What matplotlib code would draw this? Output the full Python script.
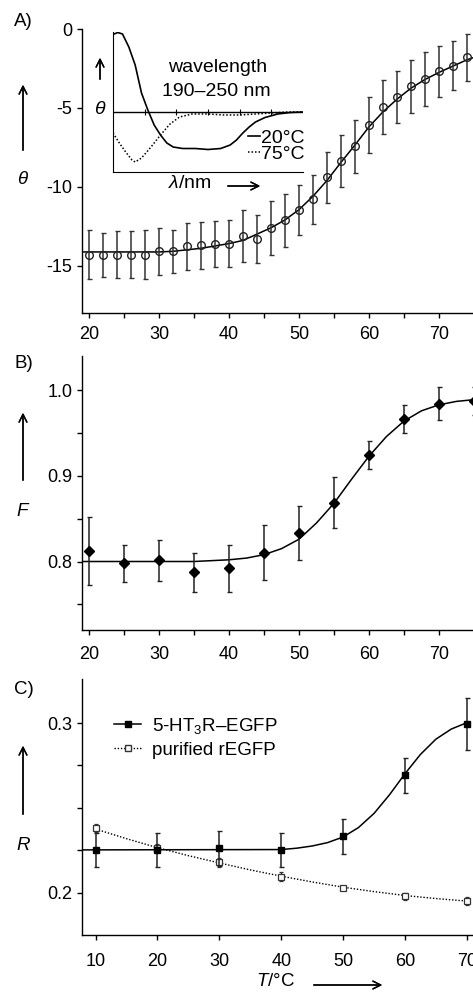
#!/usr/bin/env python3
"""
Thermal unfolding of 5-HT3R-EGFP: CD, fluorescence and anisotropy panels
"""

import matplotlib
matplotlib.use('Agg')
import matplotlib.pyplot as plt
from matplotlib.lines import Line2D

plt.rcParams['font.family'] = ['Liberation Sans', 'DejaVu Sans']
plt.rcParams['font.size'] = 13.5
plt.rcParams['axes.unicode_minus'] = False
plt.rcParams['mathtext.fontset'] = 'custom'
plt.rcParams['mathtext.rm'] = 'Liberation Sans'
plt.rcParams['mathtext.it'] = 'Liberation Sans:italic'

# --- panel A: CD signal vs temperature ---
a_temp = [20, 22, 24, 26, 28, 30, 32, 34, 36, 38, 40, 42, 44, 46,
          48, 50, 52, 54, 56, 58, 60, 62, 64, 66, 68, 70, 72, 74]
a_theta = [-14.3, -14.34, -14.3, -14.3, -14.3, -14.09, -14.09, -13.77, -13.72, -13.6,
           -13.6, -13.13, -13.3, -12.6, -12.13, -11.47, -10.8, -9.4, -8.36, -7.43,
           -6.1, -4.94, -4.32, -3.64, -3.17, -2.68, -2.32, -1.79]
a_err = [1.53, 1.39, 1.47, 1.49, 1.53, 1.48, 1.38, 1.49, 1.49, 1.46,
         1.49, 1.64, 1.53, 1.70, 1.68, 1.60, 1.57, 1.60, 1.65, 1.67,
         1.78, 1.71, 1.65, 1.68, 1.73, 1.62, 1.54, 1.49]
a_fit_t = [19, 30, 32, 36, 40, 42, 44, 46, 48, 50, 52, 54, 56, 58,
           60, 62, 64, 66, 68, 70, 72, 74, 75]
a_fit = [-14.13, -14.13, -14.09, -13.9, -13.6, -13.4, -13.0, -12.6, -12.1, -11.45,
         -10.6, -9.6, -8.45, -7.35, -6.2, -5.25, -4.45, -3.75, -3.2, -2.75,
         -2.35, -1.95, -1.8]

# inset: CD spectra 190-250 nm (arbitrary units)
wl_20 = [190, 191.5, 193, 195, 197, 199, 201, 203, 205, 207, 209, 212, 216, 220,
         224, 227, 229, 231, 233, 235, 238, 242, 246, 250]
cd_20 = [7.75, 7.95, 7.8, 6.5, 4.7, 1.9, 0.2, -1.3, -2.3, -3.1, -3.5, -3.65, -3.65, -3.75,
         -3.65, -3.3, -2.8, -2.1, -1.5, -1.0, -0.55, -0.2, -0.05, 0.0]
wl_75 = [190, 192, 194, 196, 197, 199, 202, 205, 208, 211, 215, 220,
         225, 230, 235, 240, 245, 250]
cd_75 = [-2.1, -3.1, -4.0, -4.8, -5.0, -4.6, -3.5, -2.3, -1.2, -0.5, -0.2, -0.2,
         -0.3, -0.3, -0.2, -0.1, 0.0, 0.0]
wl_marks = [200, 210, 220, 230, 240]

# --- panel B: fluorescence ---
b_temp = [20, 25, 30, 35, 40, 45, 50, 55, 60, 65, 70, 75]
b_f = [0.8124, 0.7977, 0.8012, 0.7872, 0.7919, 0.8104, 0.8333, 0.8689,
       0.9242, 0.966, 0.9845, 0.9876]
b_err = [0.0396, 0.0217, 0.0242, 0.0226, 0.0277, 0.0319, 0.0319, 0.030,
         0.0164, 0.0164, 0.0197, 0.016]
b_fit_t = [19, 35, 40, 42.5, 45, 47.5, 50, 52.5, 55, 57.5, 60, 62.5,
           65, 67.5, 70, 72.5, 75]
b_fit = [0.800, 0.800, 0.802, 0.804, 0.808, 0.815, 0.826, 0.845, 0.868, 0.896,
         0.923, 0.946, 0.964, 0.976, 0.983, 0.987, 0.989]

# --- panel C: anisotropy ---
c_temp = [10, 20, 30, 40, 50, 60, 70]
c_rec = [0.2252, 0.2254, 0.2262, 0.2252, 0.2331, 0.2691, 0.2996]
c_rec_err = [0.0101, 0.0100, 0.0103, 0.0100, 0.0103, 0.0102, 0.0153]
c_pur = [0.238, 0.2262, 0.2179, 0.2094, 0.2028, 0.1978, 0.1951]
c_pur_err = [0.0025, 0.0022, 0.0026, 0.0025, 0.0012, 0.0020, 0.0025]
c_rec_fit_t = [7.8, 40, 42.5, 45, 47.5, 50, 52.5, 55, 57.5, 60, 62.5, 65, 67.5, 70]
c_rec_fit = [0.2252, 0.2254, 0.2262, 0.2275, 0.2295, 0.2328, 0.2384, 0.2467,
             0.2577, 0.2701, 0.2815, 0.2905, 0.2965, 0.3002]
c_pur_fit_t = [10, 15, 20, 25, 30, 35, 40, 45, 50, 55, 60, 65, 70]
c_pur_fit = [0.2375, 0.2318, 0.2265, 0.2218, 0.2175, 0.2134, 0.2097, 0.2063,
             0.2032, 0.2006, 0.1983, 0.1965, 0.1950]

W, H = 473, 992
fig = plt.figure(figsize=(W / 100, H / 100), dpi=100)

TICK_FS = 13
INSET_FS = 14


def fpos(x, y):
    # pixel coords (origin top-left) -> figure fraction
    return (x / W, 1 - y / H)


def add_ax(l, t, r, b):
    return fig.add_axes([l / W, 1 - b / H, (r - l) / W, (b - t) / H])


def style_ax(ax, xpad):
    for s in ['top', 'right']:
        ax.spines[s].set_visible(False)
    for s in ['left', 'bottom']:
        ax.spines[s].set_linewidth(1.0)
    ax.tick_params(which='both', direction='out', length=3.6, width=1.0,
                   labelsize=TICK_FS)
    ax.tick_params(axis='y', pad=3.5)
    ax.tick_params(axis='x', pad=xpad)


def up_arrow(x, y0, y1, label, ly, fs=13.5):
    fig.add_artist(plt.annotate('', xy=fpos(x, y1), xytext=fpos(x, y0),
                                xycoords='figure fraction', textcoords='figure fraction',
                                arrowprops=dict(arrowstyle='->', lw=1.0, mutation_scale=14)))
    fig.text(*fpos(x, ly), label, ha='center', va='center', fontsize=fs)


def right_arrow(x0, x1, y):
    fig.add_artist(plt.annotate('', xy=fpos(x1, y), xytext=fpos(x0, y),
                                xycoords='figure fraction', textcoords='figure fraction',
                                arrowprops=dict(arrowstyle='->', lw=1.0, mutation_scale=14)))


# ---------- A ----------
axA = add_ax(82, 29, 474, 313)
style_ax(axA, 5.5)
axA.plot(a_fit_t, a_fit, color='k', lw=1.1, zorder=2)
axA.errorbar(a_temp, a_theta, yerr=a_err, fmt='o', ms=5.5, mfc='none', mec='#222222',
             mew=1.0, ecolor='#333333', elinewidth=1.1, capsize=1.8, capthick=1.0,
             clip_on=False, zorder=3)
axA.set_xlim(19, 75)
axA.set_ylim(-18, 0)
axA.set_yticks([0, -5, -10, -15])
axA.set_xticks([20, 30, 40, 50, 60, 70])
axA.set_xticks([25, 35, 45, 55, 65, 75], minor=True)
fig.text(*fpos(14, 22), 'A)', ha='left', va='center')
up_arrow(23, 153, 82, r'$\theta$', 180)

# inset spectra
axI = add_ax(113, 32, 303, 172)
for s in ['top', 'right']:
    axI.spines[s].set_visible(False)
axI.set_xticks([])
axI.set_yticks([])
axI.patch.set_alpha(0)
axI.set_xlim(190, 250)
axI.set_ylim(-6, 8)
axI.axhline(0, color='k', lw=1.0)
axI.plot(wl_marks, [0] * len(wl_marks), '|', color='k', ms=4, mew=0.8)
h20, = axI.plot(wl_20, cd_20, color='k', lw=1.2)
h75, = axI.plot(wl_75, cd_75, color='k', lw=1.1, ls=(0, (1, 1.3)))
fig.text(*fpos(218, 68), 'wavelength', ha='center', va='center', fontsize=INSET_FS)
fig.text(*fpos(216, 91), '190\u2013250 nm', ha='center', va='center', fontsize=INSET_FS)
axI.legend([h20, h75], ['20\u00b0C', '75\u00b0C'], loc='center right',
           bbox_to_anchor=fpos(305, 146), bbox_transform=fig.transFigure,
           frameon=False, handlelength=0.6, handletextpad=0.1, labelspacing=-0.1,
           borderpad=0, borderaxespad=0, fontsize=INSET_FS)
up_arrow(100, 82, 55, r'$\theta$', 110, INSET_FS)
fig.text(*fpos(190, 184), r'$\lambda$/nm', ha='center', va='center', fontsize=INSET_FS)
right_arrow(225, 263, 186)

# ---------- B ----------
axB = add_ax(82, 356, 474, 630)
style_ax(axB, 8)
axB.plot(b_fit_t, b_fit, color='k', lw=1.1, zorder=2)
axB.errorbar(b_temp, b_f, yerr=b_err, fmt='D', ms=5.5, mfc='k', mec='k',
             ecolor='#222222', elinewidth=1.1, capsize=1.8, capthick=1.0,
             clip_on=False, zorder=3)
axB.set_xlim(19, 75)
axB.set_ylim(0.72, 1.04)
axB.set_yticks([0.8, 0.9, 1.0])
axB.set_yticks([0.75, 0.85, 0.95], minor=True)
axB.set_yticklabels(['0.8', '0.9', '1.0'])
axB.set_xticks([20, 30, 40, 50, 60, 70])
axB.set_xticks([25, 35, 45, 55, 65, 75], minor=True)
fig.text(*fpos(14, 363), 'B)', ha='left', va='center')
up_arrow(23, 483, 410, r'$F$', 512)

# ---------- C ----------
axC = add_ax(82, 679, 473, 935)
style_ax(axC, 9.5)
axC.plot(c_rec_fit_t, c_rec_fit, color='k', lw=1.1, zorder=2)
axC.plot(c_pur_fit_t, c_pur_fit, color='k', lw=1.0, ls=(0, (1, 1.3)), zorder=2)
axC.errorbar(c_temp, c_pur, yerr=c_pur_err, fmt='s', ms=4, mfc='white', mec='#333333',
             mew=0.9, ecolor='#333333', elinewidth=1.0, capsize=1.5, capthick=0.9,
             clip_on=False, zorder=3)
axC.errorbar(c_temp, c_rec, yerr=c_rec_err, fmt='s', ms=5, mfc='k', mec='k',
             ecolor='#222222', elinewidth=1.1, capsize=1.8, capthick=1.0,
             clip_on=False, zorder=4)
axC.set_xlim(7.8, 71)
axC.set_ylim(0.175, 0.326)
axC.set_yticks([0.2, 0.3])
axC.set_yticks([0.225, 0.25, 0.275], minor=True)
axC.set_yticklabels(['0.2', '0.3'])
axC.set_xticks(c_temp)
fig.text(*fpos(14, 689), 'C)', ha='left', va='center')
up_arrow(23, 817, 743, r'$R$', 846)
leg_h = [Line2D([], [], color='k', lw=1.1, marker='s', ms=5, mfc='k'),
         Line2D([], [], color='k', lw=1.0, ls=(0, (1, 1.3)), marker='s', ms=4,
                mfc='white', mec='#333333')]
axC.legend(leg_h, ['5-HT$_3$R\u2013EGFP', 'purified rEGFP'], loc='upper left',
           bbox_to_anchor=fpos(114, 716), bbox_transform=fig.transFigure,
           frameon=False, handlelength=1.45, handletextpad=0.6, labelspacing=0.3,
           borderpad=0, borderaxespad=0)
fig.text(*fpos(275, 981), r'$T$/$\degree$C', ha='center', va='center')
right_arrow(311, 385, 985)

fig.savefig('out.png', dpi=100)
